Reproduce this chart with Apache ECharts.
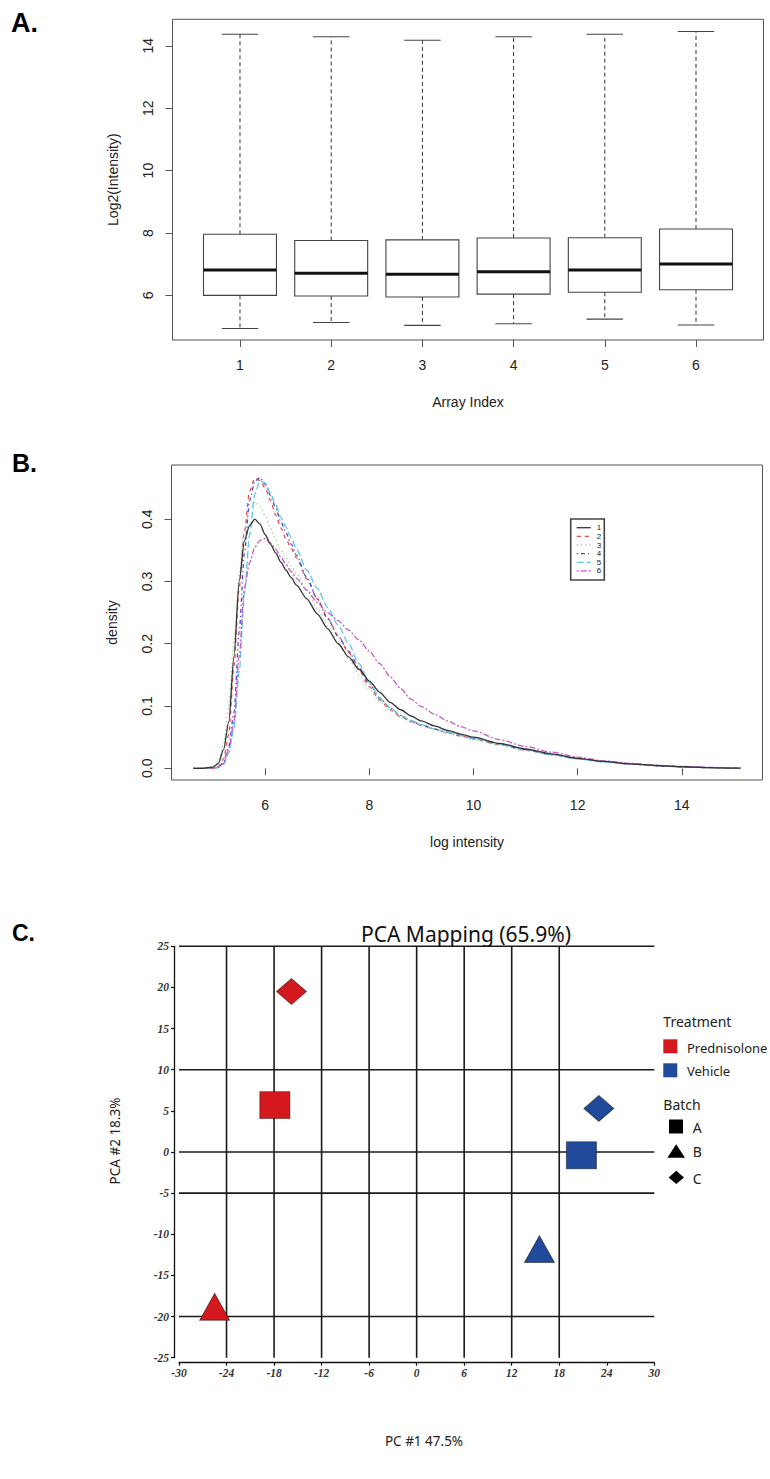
<!DOCTYPE html>
<html>
<head>
<meta charset="utf-8">
<script src="https://cdn.jsdelivr.net/npm/echarts@6.0.0/dist/echarts.min.js"></script>
<style>
  html, body { margin: 0; padding: 0; background: #fff; }
  #chart { width: 770px; height: 1479px; }
</style>
</head>
<body>
<div id="chart"></div>
<script>
// ---- A. per-array intensity distribution (boxplot statistics) ----
const arrayIndex   = [1, 2, 3, 4, 5, 6];
const whiskerLow   = [4.94, 5.13, 5.04, 5.09, 5.24, 5.05];
const quartile1    = [6.00, 5.98, 5.95, 6.04, 6.10, 6.18];
const medianVals   = [6.81, 6.71, 6.68, 6.76, 6.81, 7.01];
const quartile3    = [7.96, 7.76, 7.78, 7.84, 7.85, 8.13];
const whiskerHigh  = [14.37, 14.29, 14.18, 14.29, 14.37, 14.46];
const boxYTicks    = [6, 8, 10, 12, 14];

// ---- B. density of log intensity per array ----
const densityX = [4.62, 4.8, 5.0, 5.1, 5.2, 5.3, 5.4, 5.5, 5.6, 5.7, 5.8, 5.9, 6.0, 6.1, 6.2, 6.3, 6.4, 6.5, 6.6, 6.8,
  7.0, 7.2, 7.4, 7.6, 7.8, 8.0, 8.2, 8.4, 8.6, 8.8, 9.0, 9.25, 9.5, 9.75, 10.0, 10.5, 11.0, 11.5, 12.0, 12.5,
  13.0, 13.5, 14.0, 14.5, 15.0, 15.13];
const density1 = [0, 0, 0.002, 0.008, 0.03, 0.075, 0.18, 0.30, 0.365, 0.39, 0.400, 0.392, 0.375, 0.360, 0.346, 0.331, 0.318, 0.306, 0.294, 0.272,
  0.248, 0.224, 0.200, 0.179, 0.159, 0.140, 0.122, 0.106, 0.094, 0.084, 0.076, 0.068, 0.061, 0.055, 0.050, 0.040, 0.031, 0.023, 0.016, 0.011,
  0.007, 0.0045, 0.0025, 0.0012, 0.0004, 0.0002];
const density2 = [0, 0, 0.0005, 0.003, 0.015, 0.055, 0.165, 0.29, 0.38, 0.445, 0.466, 0.462, 0.450, 0.430, 0.407, 0.386, 0.368, 0.353, 0.338, 0.304,
  0.272, 0.241, 0.213, 0.186, 0.158, 0.131, 0.110, 0.094, 0.083, 0.075, 0.069, 0.063, 0.057, 0.052, 0.047, 0.038, 0.029, 0.022, 0.016, 0.011,
  0.007, 0.0043, 0.0024, 0.0011, 0.0004, 0.0002];
const density3 = [0, 0.0005, 0.003, 0.012, 0.04, 0.10, 0.205, 0.31, 0.38, 0.415, 0.428, 0.42, 0.405, 0.386, 0.367, 0.350, 0.338, 0.325, 0.312, 0.286,
  0.257, 0.228, 0.202, 0.176, 0.150, 0.127, 0.107, 0.093, 0.082, 0.074, 0.068, 0.062, 0.056, 0.051, 0.046, 0.037, 0.029, 0.021, 0.015, 0.010,
  0.007, 0.0042, 0.0024, 0.0011, 0.0004, 0.0002];
const density4 = [0, 0, 0, 0.002, 0.01, 0.035, 0.09, 0.22, 0.345, 0.43, 0.46, 0.467, 0.456, 0.438, 0.418, 0.396, 0.378, 0.360, 0.342, 0.306,
  0.272, 0.240, 0.212, 0.188, 0.162, 0.136, 0.113, 0.097, 0.085, 0.076, 0.070, 0.063, 0.058, 0.053, 0.048, 0.039, 0.030, 0.022, 0.016, 0.011,
  0.007, 0.0044, 0.0025, 0.0012, 0.0004, 0.0002];
const density5 = [0, 0, 0, 0.001, 0.006, 0.025, 0.065, 0.155, 0.28, 0.375, 0.44, 0.462, 0.458, 0.442, 0.423, 0.403, 0.387, 0.370, 0.352, 0.318,
  0.289, 0.258, 0.230, 0.200, 0.168, 0.138, 0.113, 0.097, 0.085, 0.077, 0.070, 0.063, 0.058, 0.053, 0.048, 0.039, 0.030, 0.022, 0.015, 0.010,
  0.007, 0.0043, 0.0024, 0.0011, 0.0004, 0.0002];
const density6 = [0, 0, 0, 0.002, 0.008, 0.03, 0.075, 0.18, 0.29, 0.33, 0.355, 0.366, 0.369, 0.362, 0.352, 0.339, 0.327, 0.316, 0.305, 0.286,
  0.266, 0.250, 0.237, 0.222, 0.206, 0.188, 0.168, 0.147, 0.128, 0.111, 0.099, 0.087, 0.076, 0.067, 0.060, 0.046, 0.035, 0.026, 0.018, 0.012,
  0.008, 0.005, 0.003, 0.0015, 0.0005, 0.0002];
const densityXTicks = [6, 8, 10, 12, 14];
const densityYTicks = [0, 0.1, 0.2, 0.3, 0.4];
const densityNames  = ['1', '2', '3', '4', '5', '6'];

// ---- C. PCA mapping ----
const sampleTreatment = ['Prednisolone', 'Prednisolone', 'Prednisolone', 'Vehicle', 'Vehicle', 'Vehicle'];
const sampleBatch     = ['A', 'B', 'C', 'A', 'B', 'C'];
const pc1 = [-17.9, -25.5, -15.8, 20.8, 15.5, 23.0];
const pc2 = [5.7, -18.8, 19.5, -0.4, -11.8, 5.3];
const pcaGridX = [-24, -18, -12, -6, 0, 6, 12, 18];
const pcaGridY = [25, 10, 0, -5, -20];
const pcaTitle = 'PCA Mapping (65.9%)';
const treatmentNames = ['Prednisolone', 'Vehicle'];
const batchNames = ['A', 'B', 'C'];

// ---- styling ----
const SANS = '"Liberation Sans", Arial, sans-serif';
const MYR = '"Noto Sans", "Open Sans", sans-serif';
const SERIF = '"Liberation Serif", "DejaVu Serif", serif';
const TXT = '#222';
const FRAME = '#555';
const densityColors = ['#333333', '#ec4a4e', '#8fd28f', '#4b4bcc', '#5ec8e4', '#c65bc6'];
const densityDash = ['solid', [4, 4], [1.2, 3], [1.2, 3, 4, 3], [7, 3], [2, 2, 6, 2]];
const treatmentColors = { Prednisolone: '#d3191e', Vehicle: '#214a9a' };
const batchSymbols = { A: 'rect', B: 'triangle', C: 'diamond' };
const batchSizes = { A: [30, 27], B: [30, 27], C: [30, 26] };

const chart = echarts.init(document.getElementById('chart'), null, { renderer: 'svg', width: 770, height: 1479 });

// boxplot drawn with R-style dashed whiskers and half-width staples
function renderBox(params, api) {
  const x = api.value(0);
  const lo = api.coord([x, api.value(1)]);
  const q1 = api.coord([x, api.value(2)]);
  const md = api.coord([x, api.value(3)]);
  const q3 = api.coord([x, api.value(4)]);
  const hi = api.coord([x, api.value(5)]);
  const w = api.size([0.8, 0])[0];
  const sw = api.size([0.4, 0])[0];
  const cx = q1[0];
  const whisk = { stroke: '#333', lineWidth: 1, lineDash: [4, 3] };
  const solid = { stroke: '#444', lineWidth: 1.1 };
  return {
    type: 'group',
    children: [
      { type: 'line', shape: { x1: cx, y1: q3[1], x2: cx, y2: hi[1] }, style: whisk },
      { type: 'line', shape: { x1: cx, y1: q1[1], x2: cx, y2: lo[1] }, style: whisk },
      { type: 'line', shape: { x1: cx - sw / 2, y1: hi[1], x2: cx + sw / 2, y2: hi[1] }, style: solid },
      { type: 'line', shape: { x1: cx - sw / 2, y1: lo[1], x2: cx + sw / 2, y2: lo[1] }, style: solid },
      { type: 'rect', shape: { x: cx - w / 2, y: q3[1], width: w, height: q1[1] - q3[1] },
        style: { fill: '#fff', stroke: '#444', lineWidth: 1.1 } },
      { type: 'line', shape: { x1: cx - w / 2, y1: md[1], x2: cx + w / 2, y2: md[1] },
        style: { stroke: '#111', lineWidth: 3 } }
    ]
  };
}

const boxData = arrayIndex.map((v, i) => [v, whiskerLow[i], quartile1[i], medianVals[i], quartile3[i], whiskerHigh[i]]);
const densitySets = [density1, density2, density3, density4, density5, density6];

const densitySeries = densitySets.map((d, k) => ({
  name: densityNames[k],
  type: 'line',
  xAxisIndex: 1,
  yAxisIndex: 1,
  data: densityX.map((x, i) => [x, d[i]]),
  showSymbol: false,
  smooth: 0.25,
  smoothMonotone: 'x',
  silent: true,
  z: 2 + (k === 0 ? 6 : k),
  lineStyle: { color: densityColors[k], width: 1.3, type: densityDash[k] }
}));

const pcaItems = pc1.map((x, i) => ({
  value: [x, pc2[i]],
  symbol: batchSymbols[sampleBatch[i]],
  symbolSize: batchSizes[sampleBatch[i]],
  itemStyle: { color: treatmentColors[sampleTreatment[i]], borderColor: 'rgba(0,0,0,0.45)', borderWidth: 1, opacity: 1 }
}));

function gridLineRenderer(vertical) {
  return function (params, api) {
    const v = api.value(vertical ? 0 : 1);
    const a = vertical ? api.coord([v, 25]) : api.coord([-30, v]);
    const b = vertical ? api.coord([v, -25]) : api.coord([30, v]);
    return { type: 'line', shape: { x1: a[0], y1: a[1], x2: b[0], y2: b[1] },
      style: { stroke: '#1a1a1a', lineWidth: 1.6 } };
  };
}

// legend for panel B, drawn in R style
const legendB = [];
legendB.push({ type: 'rect', shape: { x: 570.7, y: 519, width: 33.6, height: 61 },
  style: { fill: '#fff', stroke: '#444', lineWidth: 1.6 }, z: 50 });
densityNames.forEach((n, k) => {
  const y = 527.7 + k * 8.65;
  const dash = densityDash[k];
  legendB.push({ type: 'line', shape: { x1: 576.7, y1: y, x2: 590.7, y2: y },
    style: { stroke: densityColors[k], lineWidth: 1.3, lineDash: dash === 'solid' ? null : dash }, z: 51 });
  legendB.push({ type: 'text', x: 599, y: y, z: 51,
    style: { text: n, fontSize: 8, fontFamily: SANS, fill: TXT, align: 'center', verticalAlign: 'middle' } });
});

// legend for panel C
const LEG = { fontSize: 13, fontFamily: MYR, fill: '#222', verticalAlign: 'middle' };
const legendC = [
  { type: 'text', x: 663.3, y: 1021, style: Object.assign({ text: 'Treatment', fontSize: 14 }, LEG, { fontSize: 14 }) },
  { type: 'rect', shape: { x: 663.3, y: 1039.3, width: 14, height: 14 }, style: { fill: treatmentColors[treatmentNames[0]] } },
  { type: 'text', x: 687, y: 1048, style: Object.assign({ text: treatmentNames[0] }, LEG) },
  { type: 'rect', shape: { x: 663.3, y: 1063.3, width: 14, height: 14 }, style: { fill: treatmentColors[treatmentNames[1]] } },
  { type: 'text', x: 687, y: 1070.5, style: Object.assign({ text: treatmentNames[1] }, LEG) },
  { type: 'text', x: 663.3, y: 1104.5, style: Object.assign({ text: 'Batch' }, LEG, { fontSize: 14 }) },
  { type: 'rect', shape: { x: 669, y: 1119.5, width: 14, height: 14 }, style: { fill: '#000' } },
  { type: 'text', x: 692.7, y: 1127.5, style: Object.assign({ text: batchNames[0] }, LEG, { fontSize: 14 }) },
  { type: 'polygon', shape: { points: [[676.2, 1144.3], [685, 1157.8], [667.4, 1157.8]] }, style: { fill: '#000' } },
  { type: 'text', x: 692.7, y: 1151.5, style: Object.assign({ text: batchNames[1] }, LEG, { fontSize: 14 }) },
  { type: 'polygon', shape: { points: [[676.3, 1170.7], [684, 1177.4], [676.3, 1184], [668.6, 1177.4]] }, style: { fill: '#000' } },
  { type: 'text', x: 692.7, y: 1178.3, style: Object.assign({ text: batchNames[2] }, LEG, { fontSize: 14 }) }
];

const panelLabels = [
  { type: 'text', x: 11, y: 9, style: { text: 'A.', fontSize: 27, fontWeight: 'bold', fontFamily: SANS, fill: '#000' } },
  { type: 'text', x: 12, y: 450, style: { text: 'B.', fontSize: 25, fontWeight: 'bold', fontFamily: SANS, fill: '#000' } },
  { type: 'text', x: 12, y: 921, style: { text: 'C.', fontSize: 23, fontWeight: 'bold', fontFamily: SANS, fill: '#000' } }
];

const pcaTexts = [
  { type: 'text', x: 466, y: 934, style: { text: pcaTitle, fontSize: 21, fontFamily: MYR, fill: '#111', align: 'center', verticalAlign: 'middle' } },
  { type: 'text', x: 424, y: 1441, style: { text: 'PC #1 47.5%', fontSize: 13.5, fontFamily: MYR, fill: '#222', align: 'center', verticalAlign: 'middle' } },
  { type: 'text', x: 115, y: 1141, rotation: Math.PI / 2,
    style: { text: 'PCA #2 18.3%', fontSize: 13.5, fontFamily: MYR, fill: '#222', align: 'center', verticalAlign: 'middle' } }
];

const rAxisLabel = { fontSize: 14, color: TXT, fontFamily: SANS };
const pcaLabel = { fontSize: 11.5, color: '#333', fontFamily: SERIF, fontStyle: 'italic', fontWeight: 'bold' };

chart.setOption({
  animation: false,
  backgroundColor: '#fff',
  grid: [
    { left: 172.5, top: 19.3, width: 591, height: 320.7, show: true, borderColor: FRAME, borderWidth: 1, backgroundColor: 'transparent' },
    { left: 171.5, top: 465, width: 591, height: 315, show: true, borderColor: FRAME, borderWidth: 1, backgroundColor: 'transparent' },
    { left: 179, top: 946.3, width: 475.3, height: 411.4 }
  ],
  xAxis: [
    { gridIndex: 0, type: 'value', min: 0.26, max: 6.74,
      axisLine: { show: false },
      axisTick: { show: true, customValues: arrayIndex, length: 7, lineStyle: { color: FRAME } },
      axisLabel: Object.assign({ customValues: arrayIndex, margin: 18 }, rAxisLabel),
      splitLine: { show: false },
      name: 'Array Index', nameLocation: 'middle', nameGap: 55, nameTextStyle: rAxisLabel },
    { gridIndex: 1, type: 'value', min: 4.2, max: 15.55,
      axisLine: { show: false },
      axisTick: { show: true, customValues: densityXTicks, length: 7, lineStyle: { color: FRAME } },
      axisLabel: Object.assign({ customValues: densityXTicks, margin: 18 }, rAxisLabel),
      splitLine: { show: false },
      name: 'log intensity', nameLocation: 'middle', nameGap: 55, nameTextStyle: rAxisLabel },
    { gridIndex: 2, type: 'value', min: -30, max: 30, interval: 6, offset: 5,
      axisLine: { show: true, onZero: false, lineStyle: { color: '#111', width: 1.3 } },
      axisTick: { show: true, length: 3, lineStyle: { color: '#111', width: 1.2 } },
      axisLabel: Object.assign({ margin: 4 }, pcaLabel),
      splitLine: { show: false } }
  ],
  yAxis: [
    { gridIndex: 0, type: 'value', min: 4.57, max: 14.85,
      axisLine: { show: false },
      axisTick: { show: true, customValues: boxYTicks, length: 7, lineStyle: { color: FRAME } },
      axisLabel: Object.assign({ customValues: boxYTicks, rotate: 90, margin: 18 }, rAxisLabel),
      splitLine: { show: false },
      name: 'Log2(Intensity)', nameLocation: 'middle', nameGap: 53, nameTextStyle: rAxisLabel },
    { gridIndex: 1, type: 'value', min: -0.0188, max: 0.487,
      axisLine: { show: false },
      axisTick: { show: true, customValues: densityYTicks, length: 7, lineStyle: { color: FRAME } },
      axisLabel: Object.assign({ customValues: densityYTicks, rotate: 90, margin: 18,
        formatter: v => Number(v).toFixed(1) }, rAxisLabel),
      splitLine: { show: false },
      name: 'density', nameLocation: 'middle', nameGap: 53, nameTextStyle: rAxisLabel },
    { gridIndex: 2, type: 'value', min: -25, max: 25, interval: 5, offset: 5,
      axisLine: { show: true, onZero: false, lineStyle: { color: '#111', width: 1.3 } },
      axisTick: { show: true, length: 3, lineStyle: { color: '#111', width: 1.2 } },
      axisLabel: Object.assign({ margin: 5 }, pcaLabel),
      splitLine: { show: false } }
  ],
  series: [
    { type: 'custom', xAxisIndex: 0, yAxisIndex: 0, renderItem: renderBox, data: boxData,
      encode: { x: 0, y: [1, 2, 3, 4, 5] }, silent: true },
    ...densitySeries,
    { type: 'custom', xAxisIndex: 2, yAxisIndex: 2, renderItem: gridLineRenderer(true),
      data: pcaGridX.map(v => [v, 0]), encode: { x: 0, y: 1 }, clip: false, silent: true, z: 1 },
    { type: 'custom', xAxisIndex: 2, yAxisIndex: 2, renderItem: gridLineRenderer(false),
      data: pcaGridY.map(v => [0, v]), encode: { x: 0, y: 1 }, clip: false, silent: true, z: 1 },
    { type: 'scatter', xAxisIndex: 2, yAxisIndex: 2, data: pcaItems, z: 5, silent: true }
  ],
  graphic: { elements: [...panelLabels, ...legendB, ...legendC, ...pcaTexts] }
});
</script>
</body>
</html>
